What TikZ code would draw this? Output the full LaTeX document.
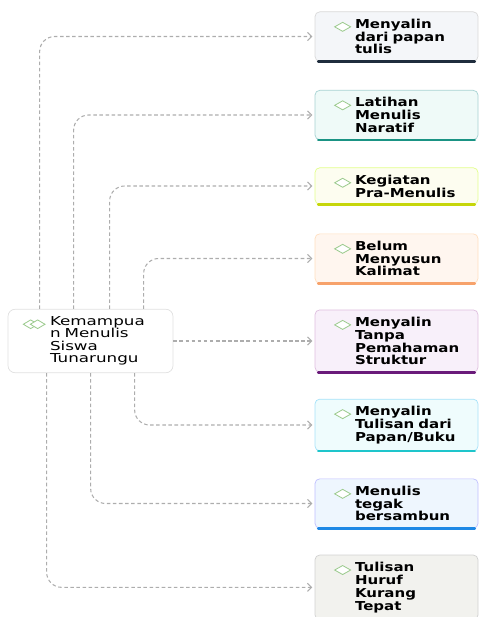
\documentclass[tikz,border=0pt]{standalone}
\usepackage{fontspec}
\usepackage{xcolor}
\usepackage{tikz}
\usetikzlibrary{arrows.meta,positioning}

\newfontfamily\boxfont[FakeStretch=1.22]{DejaVu Sans}
\newfontfamily\rootfont[FakeStretch=1.36]{DejaVu Sans}

\definecolor{linkgray}{HTML}{ADADAD}
\definecolor{gemgreen}{HTML}{9CCB8E}

\begin{document}
\begin{tikzpicture}[
        card/.style={draw, rounded corners=4pt, line width=0.6pt, text width=4.29cm,
                     inner xsep=0.3cm, inner ysep=0.21cm, align=left,
                     font=\boxfont\bfseries\fontsize{10.5}{11}\selectfont,
                     execute at begin node={\leftskip=0.9cm}},
        root/.style={draw=black!12, fill=white, rounded corners=6pt, line width=0.6pt,
                     text width=4.35cm, inner xsep=0.3cm, inner ysep=0.22cm, align=left,
                     font=\rootfont\fontsize{10.5}{10.6}\selectfont,
                     execute at begin node={\leftskip=0.96cm}},
        link/.style={draw=linkgray, line width=0.9pt, dash pattern=on 3pt off 2.2pt,
                     rounded corners=0.45cm, shorten >=2pt,
                     -{Straight Barb[length=3.5pt,width=7pt]}},
        gem/.style={draw=gemgreen, fill=white, line width=0.7pt},
        bar/.style={line width=2.2pt, line cap=round},
    ]
        \useasboundingbox (0,0) rectangle (14.37,-18.51);

        \node[root] (m) at (2.715,-10.23) {Kemampua\\n Menulis\\Siswa\\Tunarungu};

        \node[card, draw=black!15,   fill={rgb,255:red,244;green,246;blue,249}] (b1) at (11.895,-1.095)  {Menyalin\\dari papan\\tulis};
        \node[card, draw=teal!35,    fill={rgb,255:red,239;green,250;blue,248}] (b2) at (11.895,-3.45)   {Latihan\\Menulis\\Naratif};
        \node[card, draw=lime!45,    fill={rgb,255:red,253;green,253;blue,240}] (b3) at (11.895,-5.58)   {Kegiatan\\Pra-Menulis};
        \node[card, draw=orange!25,  fill={rgb,255:red,255;green,246;blue,239}] (b4) at (11.895,-7.755)  {Belum\\Menyusun\\Kalimat};
        \node[card, draw=violet!25,  fill={rgb,255:red,248;green,240;blue,250}] (b5) at (11.895,-10.23)  {Menyalin\\Tanpa\\Pemahaman\\Struktur};
        \node[card, draw=cyan!35,    fill={rgb,255:red,239;green,252;blue,253}] (b6) at (11.895,-12.75)  {Menyalin\\Tulisan dari\\Papan/Buku};
        \node[card, draw=blue!25,    fill={rgb,255:red,238;green,246;blue,254}] (b7) at (11.895,-15.105) {Menulis\\tegak\\bersambun};
        \node[card, draw=black!18,   fill={rgb,255:red,242;green,242;blue,238}] (b8) at (11.895,-17.62)  {Tulisan\\Huruf\\Kurang\\Tepat};

        % coloured bottom edges
        \foreach \n/\c in {b1/{rgb,255:red,31;green,45;blue,61}, b2/{rgb,255:red,26;green,147;blue,132},
                           b3/{rgb,255:red,198;green,214;blue,10}, b4/{rgb,255:red,247;green,162;blue,107},
                           b5/{rgb,255:red,106;green,27;blue,122}, b6/{rgb,255:red,30;green,197;blue,203},
                           b7/{rgb,255:red,30;green,136;blue,229}}
            \draw[bar, color=\c] ([xshift=3pt]\n.south west) -- ([xshift=-3pt]\n.south east);

        % icons
        \foreach \n in {b1,b2,b3,b4,b5,b6,b7,b8}
            \draw[gem] ([shift={(0.84,-0.46)}]\n.north west) +(-0.24,0) -- +(0,0.135) -- +(0.24,0) -- +(0,-0.135) -- cycle;
        \draw[gem] ([shift={(0.69,-0.46)}]m.north west) +(-0.22,0) -- +(0,0.13) -- +(0.22,0) -- +(0,-0.13) -- cycle;
        \draw[gem] ([shift={(0.90,-0.46)}]m.north west) +(-0.22,0) -- +(0,0.13) -- +(0.22,0) -- +(0,-0.13) -- cycle;

        \draw[link] ([xshift=0.96cm]m.north west) |- (b1);
        \draw[link] ([xshift=1.98cm]m.north west) |- (b2);
        \draw[link] ([xshift=3.06cm]m.north west) |- (b3);
        \draw[link] ([xshift=4.08cm]m.north west) |- (b4);
        \draw[link] (m) -- (b5);
        \draw[link] ([xshift=3.81cm]m.south west) |- (b6);
        \draw[link] ([xshift=2.49cm]m.south west) |- (b7);
        \draw[link] ([xshift=1.17cm]m.south west) |- (b8);
    \end{tikzpicture}
\end{document}
